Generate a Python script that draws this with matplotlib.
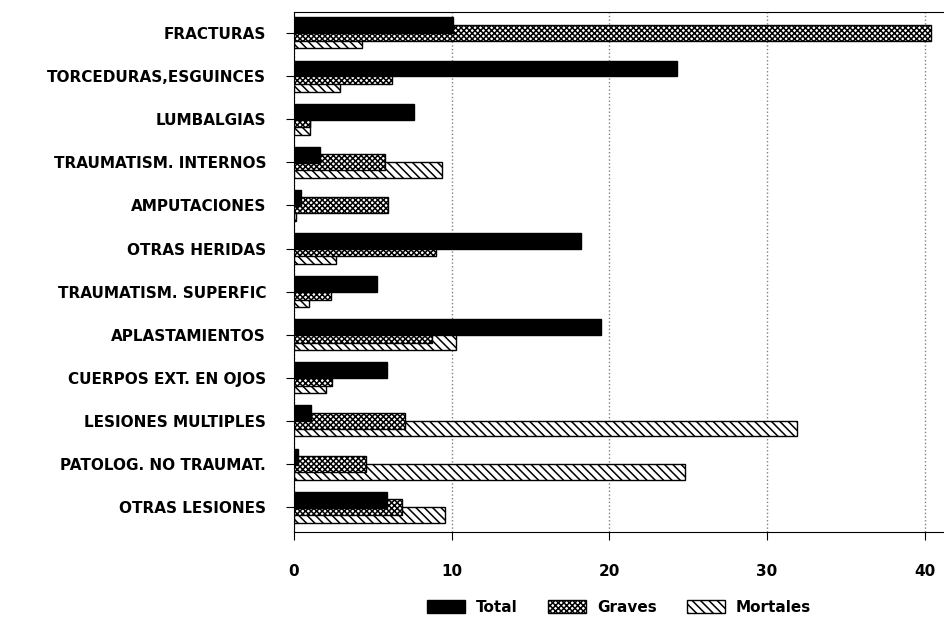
import matplotlib.pyplot as plt
import numpy as np

plt.rcParams['font.family'] = ['DejaVu Sans']
plt.rcParams['hatch.linewidth'] = 1.1

categorias = ['FRACTURAS', 'TORCEDURAS,ESGUINCES', 'LUMBALGIAS',
              'TRAUMATISM. INTERNOS', 'AMPUTACIONES', 'OTRAS HERIDAS',
              'TRAUMATISM. SUPERFIC', 'APLASTAMIENTOS', 'CUERPOS EXT. EN OJOS',
              'LESIONES MULTIPLES', 'PATOLOG. NO TRAUMAT.', 'OTRAS LESIONES']
total = [10.1, 24.3, 7.6, 1.65, 0.45, 18.2, 5.25, 19.5, 5.9, 1.1, 0.25, 5.9]
graves = [40.4, 6.25, 1.05, 5.8, 6.0, 9.0, 2.35, 8.75, 2.4, 7.05, 4.55, 6.85]
mortales = [4.35, 2.9, 1.05, 9.4, 0.15, 2.7, 0.95, 10.3, 2.05, 31.9, 24.8, 9.6]

y = np.arange(len(categorias))
h = 0.37
d = 0.175

fig = plt.figure(figsize=(9.45, 6.21), dpi=100)
ax = fig.add_axes([0.311, 0.143, 0.689, 0.838])

ax.barh(y + d, mortales, height=h, color='white', edgecolor='black',
        hatch='\\\\\\\\', linewidth=1, label='Mortales', zorder=2)
ax.barh(y, graves, height=h, color='white', edgecolor='black',
        hatch='xxxxxx', linewidth=1, label='Graves', zorder=3)
ax.barh(y - d, total, height=h, color='black', edgecolor='black',
        linewidth=1, label='Total', zorder=4)

ax.set_xlim(0, 41.3)
ax.set_ylim(len(categorias) - 0.42, -0.49)
ax.set_yticks(y)
ax.set_yticklabels(categorias, fontsize=11, fontweight='bold')
ax.set_xticks([0, 10, 20, 30, 40])
ax.set_xticklabels(['0', '10', '20', '30', '40'], fontsize=11, fontweight='bold')
ax.tick_params(axis='y', length=6, pad=14)
ax.tick_params(axis='x', length=6, pad=17)
ax.spines['right'].set_visible(False)
ax.xaxis.grid(True, linestyle=':', color='grey', linewidth=1, zorder=0)
ax.set_axisbelow(True)

handles, labels = ax.get_legend_handles_labels()
fig.legend(handles[::-1], labels[::-1], loc='lower center', ncol=3,
           bbox_to_anchor=(0.655, -0.012), frameon=False,
           prop={'weight': 'bold', 'size': 11}, handlelength=2.5,
           handleheight=1.0, handletextpad=0.7, columnspacing=2.0)

fig.savefig('out.png', dpi=100)
